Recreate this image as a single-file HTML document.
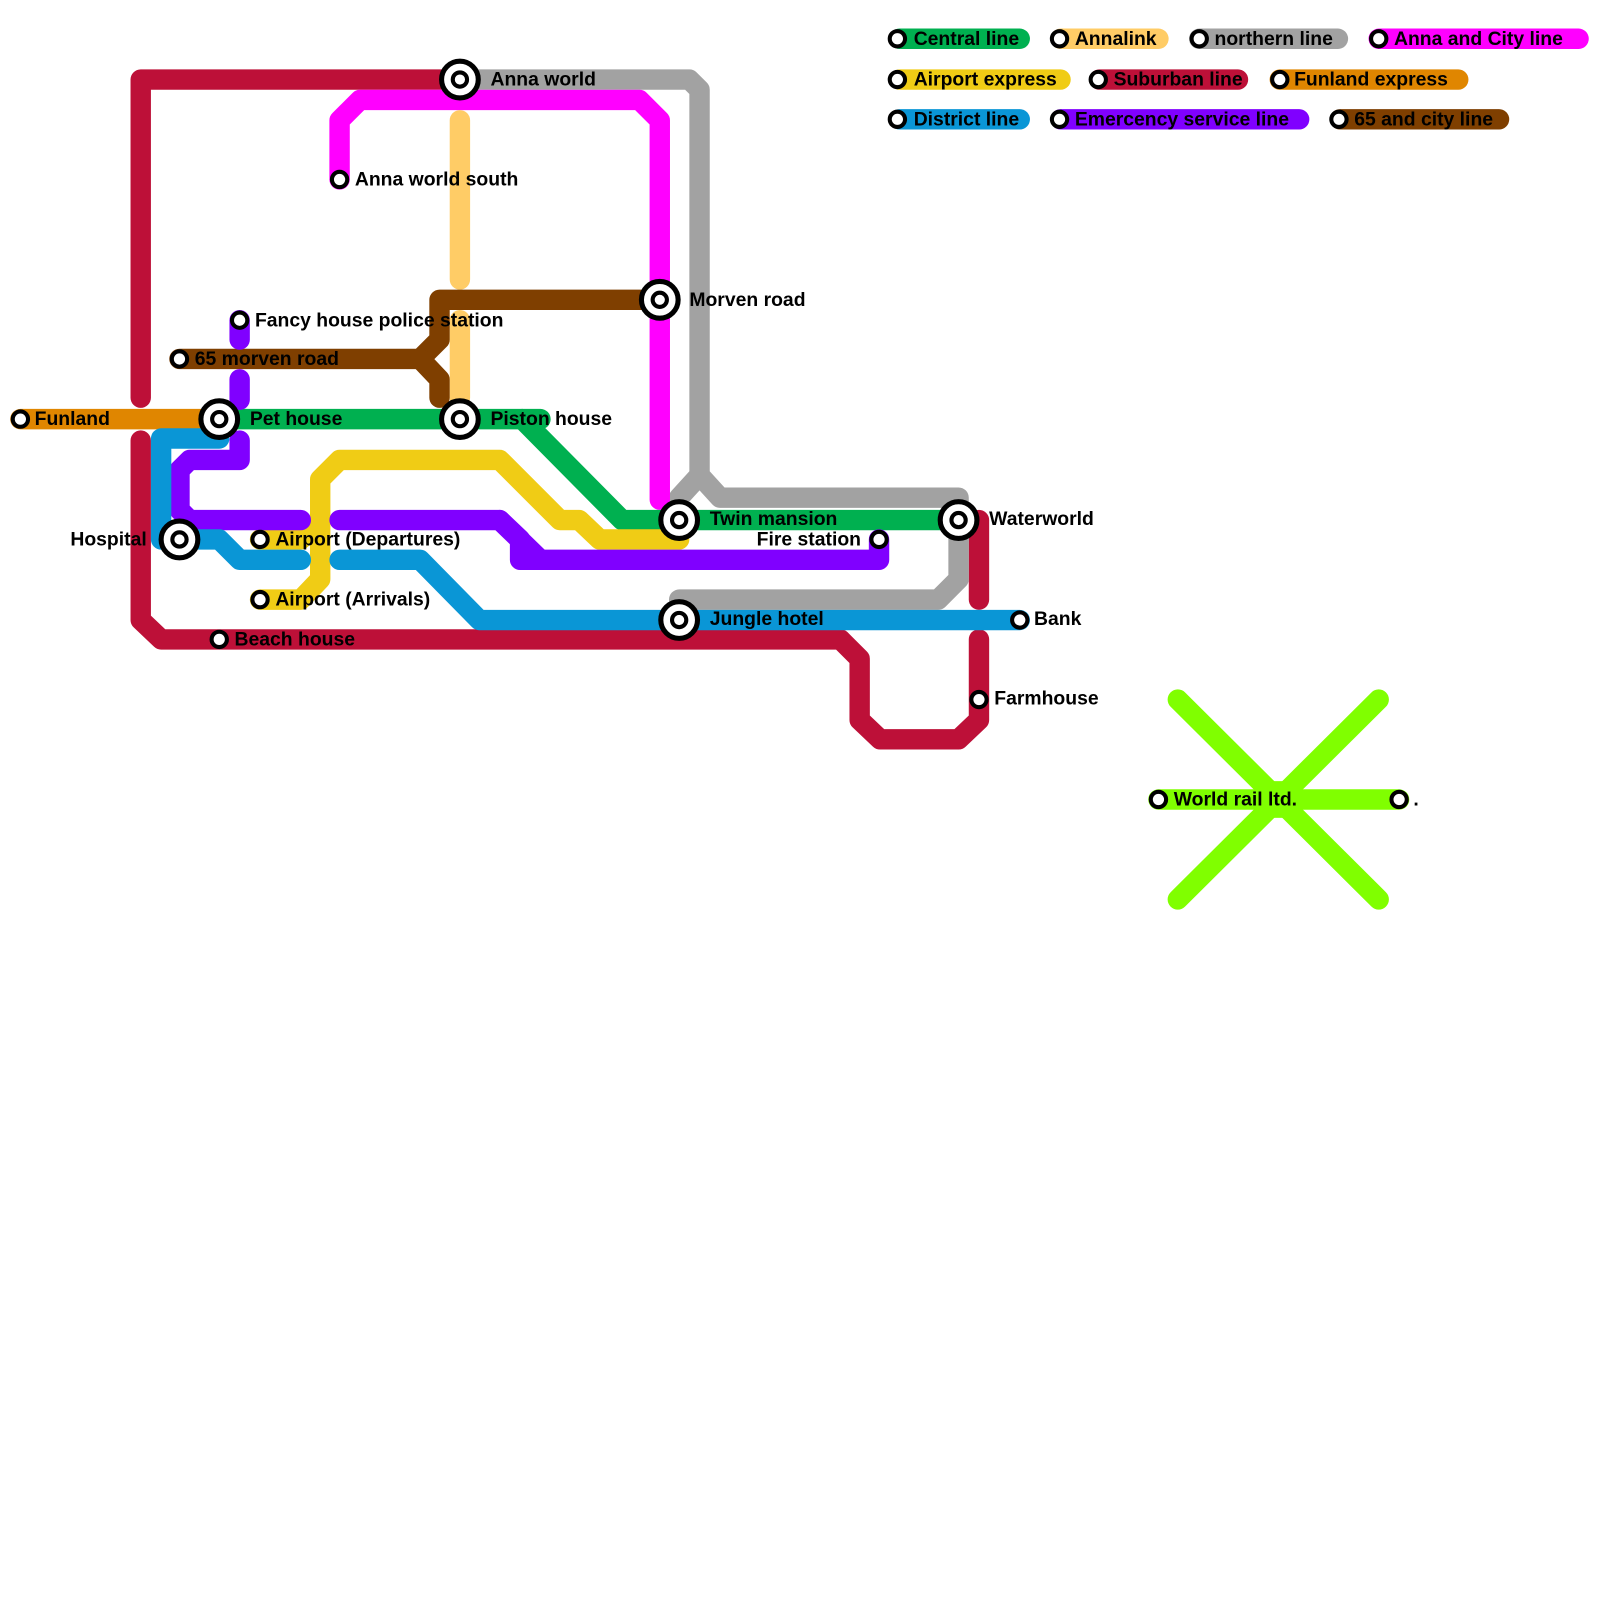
<!DOCTYPE html>
<html><head><meta charset="utf-8"><style>
html,body{margin:0;padding:0;background:#fff;}
svg{display:block}
text{font-family:"Liberation Sans",Arial,sans-serif;font-weight:bold;font-size:19px;fill:#000}
</style></head><body>
<svg width="1600" height="1600" viewBox="0 0 1569 1569" xmlns="http://www.w3.org/2000/svg">
<g fill="none" stroke-width="20" stroke-linecap="round" stroke-linejoin="round">
<polyline stroke="#bd1038" points="138,390 138,78 451,78"/>
<polyline stroke="#bd1038" points="138,432 138,608 158,627 824,627 843,646 843,706 863,725 940,725 960,706 960,627"/>
<polyline stroke="#bd1038" points="960,510 960,588"/>
<polyline stroke="#a2a2a2" points="451,78 676,78 686,88 686,466 706,488 940,488 940,568 920,588 666,588"/>
<polyline stroke="#a2a2a2" points="686,466 666,488 666,510"/>
<polyline stroke="#ff00ff" points="333,176 333,118 353,98 627,98 647,118 647,490"/>
<polyline stroke="#ffcc66" points="451,118 451,274"/>
<polyline stroke="#ffcc66" points="451,314 451,390"/>
<polyline stroke="#7f3f00" points="176,352 412,352 431,333 431,294 647,294"/>
<polyline stroke="#7f3f00" points="412,352 431,372 431,390"/>
<polyline stroke="#e08600" points="20,411 215,411"/>
<polyline stroke="#00b050" points="215,411 530,411"/>
<polyline stroke="#00b050" points="512,411 610,510 940,510"/>
<polyline stroke="#f0cc15" points="255,529 295,529 314,510 314,470 333,451 490,451 549,510 568,510 588,529 666,529"/>
<polyline stroke="#f0cc15" points="255,588 295,588 314,568 314,510"/>
<polyline stroke="#8000ff" points="235,314 235,333"/>
<polyline stroke="#8000ff" points="235,372 235,392"/>
<polyline stroke="#8000ff" points="235,432 235,451 186,451 176,461 176,500 186,510 295,510"/>
<polyline stroke="#8000ff" points="333,510 490,510 510,529 510,549 862,549 862,529"/>
<polyline stroke="#8000ff" points="490,510 530,549"/>
<polyline stroke="#0a96d6" points="215,430 158,430 158,529 215,529 235,549 295,549"/>
<polyline stroke="#0a96d6" points="333,549 412,549 470,608 1000,608"/>
<polyline stroke="#80ff00" points="1155,686 1352,882"/>
<polyline stroke="#80ff00" points="1352,686 1155,882"/>
<polyline stroke="#80ff00" points="1136,784 1372,784"/>
<rect x="1236" y="766" width="38" height="36" fill="#80ff00" stroke="none"/>
<line stroke="#00b050" x1="882" y1="38" x2="1000" y2="38"/>
<line stroke="#ffcc66" x1="1040" y1="38" x2="1136" y2="38"/>
<line stroke="#a2a2a2" x1="1176" y1="38" x2="1312" y2="38"/>
<line stroke="#ff00ff" x1="1352" y1="38" x2="1548" y2="38"/>
<line stroke="#f0cc15" x1="882" y1="78" x2="1040" y2="78"/>
<line stroke="#bd1038" x1="1078" y1="78" x2="1214" y2="78"/>
<line stroke="#e08600" x1="1255" y1="78" x2="1430" y2="78"/>
<line stroke="#0a96d6" x1="882" y1="117" x2="1000" y2="117"/>
<line stroke="#8000ff" x1="1040" y1="117" x2="1274" y2="117"/>
<line stroke="#7f3f00" x1="1314" y1="117" x2="1470" y2="117"/>
</g>
<g fill="#fff" stroke="#000">
<g stroke-width="5">
<circle cx="451" cy="78" r="18"/><circle cx="215" cy="411" r="18"/><circle cx="451" cy="411" r="18"/>
<circle cx="647" cy="294" r="18"/><circle cx="666" cy="510" r="18"/><circle cx="940" cy="510" r="18"/>
<circle cx="666" cy="608" r="18"/><circle cx="176" cy="529" r="18"/>
</g>
<g stroke-width="4">
<circle cx="451" cy="78" r="7"/><circle cx="215" cy="411" r="7"/><circle cx="451" cy="411" r="7"/>
<circle cx="647" cy="294" r="7"/><circle cx="666" cy="510" r="7"/><circle cx="940" cy="510" r="7"/>
<circle cx="666" cy="608" r="7"/><circle cx="176" cy="529" r="7"/>
<circle cx="333" cy="176" r="7.5"/><circle cx="235" cy="314" r="7.5"/><circle cx="176" cy="352" r="7.5"/>
<circle cx="20" cy="411" r="7.5"/><circle cx="255" cy="529" r="7.5"/><circle cx="255" cy="588" r="7.5"/>
<circle cx="215" cy="627" r="7.5"/><circle cx="862" cy="529" r="7.5"/><circle cx="1000" cy="608" r="7.5"/>
<circle cx="960" cy="686" r="7.5"/><circle cx="1136" cy="784" r="7.5"/><circle cx="1372" cy="784" r="7.5"/>
<circle cx="880" cy="38" r="7.5"/><circle cx="1039" cy="38" r="7.5"/><circle cx="1176" cy="38" r="7.5"/><circle cx="1352" cy="38" r="7.5"/>
<circle cx="880" cy="78" r="7.5"/><circle cx="1077" cy="78" r="7.5"/><circle cx="1255" cy="78" r="7.5"/>
<circle cx="880" cy="117" r="7.5"/><circle cx="1039" cy="117" r="7.5"/><circle cx="1313" cy="117" r="7.5"/>
</g></g>
<text x="481" y="84">Anna world</text>
<text x="348" y="182">Anna world south</text>
<text x="250" y="320">Fancy house police station</text>
<text x="191" y="358">65 morven road</text>
<text x="34" y="417">Funland</text>
<text x="245" y="417">Pet house</text>
<text x="481" y="417">Piston house</text>
<text x="676" y="300">Morven road</text>
<text x="69" y="535">Hospital</text>
<text x="270" y="535">Airport (Departures)</text>
<text x="270" y="594">Airport (Arrivals)</text>
<text x="230" y="633">Beach house</text>
<text x="696" y="515">Twin mansion</text>
<text x="742" y="535">Fire station</text>
<text x="970" y="515">Waterworld</text>
<text x="696" y="613">Jungle hotel</text>
<text x="1014" y="613">Bank</text>
<text x="975" y="691">Farmhouse</text>
<text x="1151" y="790">World rail ltd.</text>
<text x="1386" y="790">.</text>
<text x="896" y="44">Central line</text>
<text x="1054" y="44">Annalink</text>
<text x="1191" y="44">northern line</text>
<text x="1367" y="44">Anna and City line</text>
<text x="896" y="84">Airport express</text>
<text x="1092" y="84">Suburban line</text>
<text x="1269" y="84">Funland express</text>
<text x="896" y="123">District line</text>
<text x="1054" y="123">Emercency service line</text>
<text x="1328" y="123">65 and city line</text>
</svg>
</body></html>
